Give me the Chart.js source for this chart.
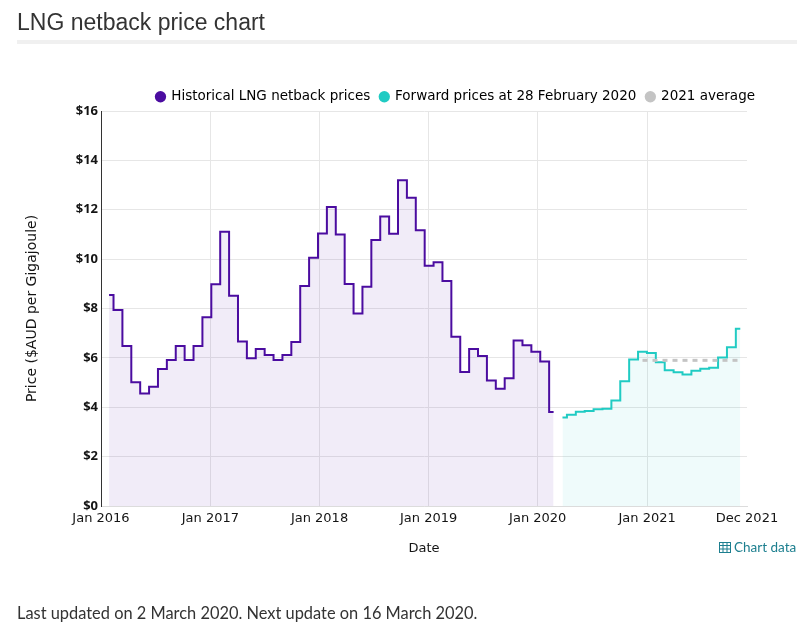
<!DOCTYPE html>
<html>
<head>
<meta charset="utf-8">
<title>LNG netback price chart</title>
<script src="https://cdn.jsdelivr.net/npm/chart.js@4.4.1/dist/chart.umd.min.js"></script>
<style>
    body { margin: 0; background: #fff; }
    #page { position: relative; width: 810px; height: 638px; overflow: hidden; }
    #chartBox { position: absolute; left: 0; top: 0; width: 810px; height: 638px; }
    h2 {
        position: absolute; left: 17px; top: 9px; margin: 0;
        font: 23px "Liberation Sans", Arial, sans-serif; color: #333; font-weight: normal;
    }
    .rule { position: absolute; left: 17px; top: 40px; width: 780px; height: 4px; background: #f0f0f0; }
    .chart-data {
        position: absolute; left: 719px; top: 539px;
        font: 13.5px Lato, sans-serif; color: #1d7f8f;
    }
    .chart-data svg { vertical-align: -1px; margin-right: 3px; }
    .updated {
        position: absolute; left: 17px; top: 603px;
        font: 16.4px Lato, sans-serif; color: #333;
    }
</style>
</head>
<body>
<div id="page">
    <div id="chartBox"><canvas id="lngChart"></canvas></div>
    <h2>LNG netback price chart</h2>
    <div class="rule"></div>
    <div class="chart-data"><svg width="12" height="11" viewBox="0 0 12 11"><rect x="0.5" y="0.5" width="11" height="10" fill="none" stroke="#1d7f8f"/><path d="M0 3.5H12M0 7H12M4 0V11M8 0V11" stroke="#1d7f8f" fill="none"/></svg>Chart data</div>
    <div class="updated">Last updated on 2 March 2020. Next update on 16 March 2020.</div>
</div>
<script>
/* --------------- Data (AUD per GJ, one sample per month) --------------------- */
const monthNames = ["Jan", "Feb", "Mar", "Apr", "May", "Jun", "Jul", "Aug", "Sep", "Oct", "Nov", "Dec"];

// Jan 2016 - Mar 2020
const historicalPrices = [
    8.55, 7.94, 6.48, 5.01, 4.56, 4.83, 5.55, 5.91, 6.48, 5.91, 6.48, 7.65,
    8.98, 11.11, 8.52, 6.66, 5.98, 6.36, 6.12, 5.91, 6.12, 6.64, 8.91, 10.06,
    11.04, 12.11, 11.00, 8.99, 7.80, 8.88, 10.77, 11.73, 11.03, 13.19, 12.49, 11.17,
    9.73, 9.87, 9.11, 6.86, 5.43, 6.36, 6.08, 5.08, 4.75, 5.17, 6.70, 6.51,
    6.25, 5.85, 3.81
];

// Apr 2020 - Dec 2021
const forwardPrices = [
    3.58, 3.70, 3.82, 3.85, 3.92, 3.94, 4.27, 5.05, 5.93,
    6.25, 6.20, 5.82, 5.50, 5.42, 5.33, 5.48, 5.56, 5.60, 6.02, 6.43, 7.18
];

const average2021 = 5.90;
const averageFrom = "Jan 2021";
const averageTo = "Dec 2021";

const tickLabels = ["Jan 2016", "Jan 2017", "Jan 2018", "Jan 2019", "Jan 2020", "Jan 2021", "Dec 2021"];

/* --------------- Month labels for every sample --------------------- */
const months = [];
for (let i = 0; i < historicalPrices.length + forwardPrices.length; i++) {
    months.push(monthNames[i % 12] + " " + (2016 + Math.floor(i / 12)));
}

/* --------------- Time axis helpers (days since 1 Jan 2016) --------------------- */
const dayOfDate = (label) => {
    const [mon, year] = label.split(" ");
    return (Date.UTC(+year, monthNames.indexOf(mon), 1) - Date.UTC(2016, 0, 1)) / 86400000;
};
// the source chart places its samples late in the month, just under a month apart
const FIRST_SAMPLE_DAY = 27;
const SAMPLE_STEP_DAYS = 29.74;
const sampleDay = (i) => FIRST_SAMPLE_DAY + i * SAMPLE_STEP_DAYS;

const tickDays = tickLabels.map(dayOfDate);
const axisMax = tickDays[tickDays.length - 1];

const historicalPoints = historicalPrices.map((v, i) => ({ x: sampleDay(i), y: v }));
const forwardPoints = forwardPrices.map((v, i) => ({ x: sampleDay(historicalPrices.length + i), y: v }));
const averagePoints = [averageFrom, averageTo].map(m => ({ x: sampleDay(months.indexOf(m)), y: average2021 }));

/* --------------- Chart --------------------- */
const axisFont = { family: "'DejaVu Sans', sans-serif", size: 13 };
const textColor = "#141414";

new Chart(document.getElementById("lngChart"), {
    type: "line",
    data: {
        datasets: [
            {
                label: "Historical LNG netback prices",
                data: historicalPoints,
                borderColor: "#4b0ca0",
                backgroundColor: "rgba(76, 16, 160, 0.08)",
                borderWidth: 2,
                stepped: "middle",
                fill: "origin",
                pointRadius: 0,
                order: 1,
            },
            {
                label: "Forward prices at 28 February 2020",
                data: forwardPoints,
                borderColor: "#20cbc3",
                backgroundColor: "rgba(32, 205, 196, 0.07)",
                borderWidth: 2,
                stepped: "middle",
                fill: "origin",
                pointRadius: 0,
                order: 1,
            },
            {
                label: "2021 average",
                data: averagePoints,
                borderColor: "#c4c4c4",
                borderWidth: 3,
                borderDash: [5, 5],
                fill: false,
                pointRadius: 0,
                order: 0,
            },
        ],
    },
    options: {
        responsive: true,
        maintainAspectRatio: false,
        animation: false,
        events: [],
        layout: { padding: { top: 80, left: 18, right: 45, bottom: 82 } },
        plugins: {
            tooltip: { enabled: false },
            legend: {
                position: "top",
                align: "end",
                maxHeight: 31,
                labels: {
                    usePointStyle: true,
                    boxWidth: 8,
                    boxHeight: 8,
                    padding: 10,
                    color: textColor,
                    font: { family: "'DejaVu Sans', sans-serif", size: 13.5 },
                    generateLabels: (chart) => chart.data.datasets.map((ds, i) => ({
                        text: ds.label,
                        fillStyle: ds.borderColor,
                        strokeStyle: ds.borderColor,
                        lineWidth: 0,
                        pointStyle: "circle",
                        datasetIndex: i,
                        hidden: false,
                    })),
                },
            },
        },
        scales: {
            x: {
                type: "linear",
                min: 0,
                max: axisMax,
                afterBuildTicks: (scale) => { scale.ticks = tickDays.map(d => ({ value: d })); },
                afterFit: (scale) => { scale.height = 50; scale.paddingRight = 63; },
                grid: {
                    color: (ctx) => (ctx.tick && ctx.tick.value === axisMax ? "rgba(0,0,0,0)" : "#e6e6e6"),
                    drawTicks: false,
                },
                border: { color: "#dcdcdc" },
                ticks: {
                    autoSkip: false,
                    maxRotation: 0,
                    padding: 5,
                    color: textColor,
                    font: axisFont,
                    callback: (value) => tickLabels[tickDays.indexOf(value)],
                },
                title: {
                    display: true,
                    text: "Date",
                    color: textColor,
                    font: axisFont,
                    padding: { top: 0, bottom: 0 },
                },
            },
            y: {
                min: 0,
                max: 16,
                afterFit: (scale) => { scale.width = 83; },
                grid: { color: "#e6e6e6", drawTicks: false },
                border: { color: "#333" },
                ticks: {
                    stepSize: 2,
                    padding: 3,
                    color: textColor,
                    font: { family: "'Open Sans', sans-serif", size: 13, weight: "bold" },
                    callback: (value) => "$" + value,
                },
                title: {
                    display: true,
                    text: "Price ($AUD per Gigajoule)",
                    color: textColor,
                    font: { family: "'DejaVu Sans', sans-serif", size: 14 },
                    padding: { top: 6, bottom: 0 },
                },
            },
        },
    },
});
</script>
</body>
</html>
